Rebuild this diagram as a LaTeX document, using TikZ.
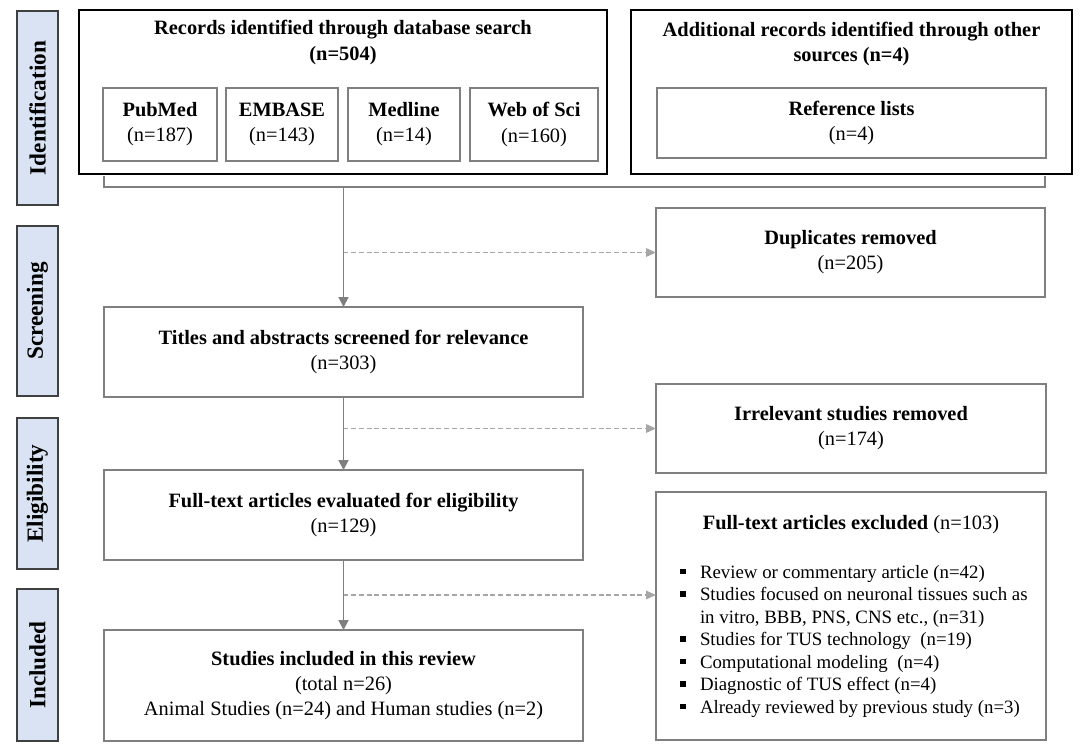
\documentclass[tikz,border=0pt]{standalone}
\usepackage{fontspec}
\setmainfont{Liberation Serif}
\usetikzlibrary{arrows.meta}
\definecolor{phasefill}{RGB}{218,227,243}
\definecolor{linegray}{RGB}{127,127,127}
\definecolor{dashgray}{RGB}{166,166,166}

\begin{document}
\begin{tikzpicture}[x=0.025cm,y=-0.025cm,
  sz/.style 2 args={minimum width=#1*0.025cm,minimum height=#2*0.025cm},
  box/.style={draw=linegray,line width=1.4pt,inner sep=0pt,outer sep=0pt,align=center,font=\fontsize{14.5}{17.8}\selectfont},
  srcbox/.style={box,draw=black,line width=1.1pt},
  dbbox/.style={box,line width=1.9pt},
  phase/.style={draw=black!75,fill=phasefill,line width=1pt,inner sep=0pt,rotate=90,font=\bfseries\fontsize{16.5}{18}\selectfont},
  txt/.style={align=center,inner sep=0pt,font=\fontsize{14.5}{17.8}\selectfont},
  arr/.style={draw=linegray,line width=1.4pt,-{Triangle[length=7pt,width=7pt]}},
  dasharr/.style={draw=dashgray,line width=1.2pt,dash pattern=on 3.5pt off 2pt,-{Triangle[length=7pt,width=6pt]}}
]
\useasboundingbox (0,0) rectangle (1084,750);

% phases
\node[phase,sz={194}{41}] (ident) at (37.5,108) {Identification};
\node[phase,sz={170}{41}] (screen) at (37.5,311) {Screening};
\node[phase,sz={151}{41}] (elig) at (37.5,493.5) {Eligibility};
\node[phase,sz={152}{41}] (incl) at (37.5,665) {Included};

% identification
\node[srcbox,sz={528}{164}] (dbsearch) at (343,92) {};
\node[txt] (dbtitle) at (343,42.5) {\textbf{Records identified through database search}\\\textbf{(n=504)}};
\node[dbbox,sz={114}{73}] (pubmed) at (160,124.5) {\textbf{PubMed}\\(n=187)};
\node[dbbox,sz={112}{73}] (embase) at (282,124.5) {\textbf{EMBASE}\\(n=143)};
\node[dbbox,sz={112}{73}] (medline) at (404,124.5) {\textbf{Medline}\\(n=14)};
\node[dbbox,sz={128}{73}] (wos) at (534,124.5) {\textbf{Web of Sci}\\(n=160)};

\node[srcbox,sz={441}{164}] (other) at (851.5,92) {};
\node[txt] (othertitle) at (851.5,44) {\textbf{Additional records identified through other}\\\textbf{sources (n=4)}};
\node[dbbox,sz={389}{70}] (reflist) at (851.5,123) {\textbf{Reference lists}\\(n=4)};

\coordinate (brkL) at (104,176);
\coordinate (brkR) at (1045,176);
\coordinate (brk) at (343.5,187);
\draw[linegray,line width=1.2pt] (brkL) |- (brk) -| (brkR);

% flow
\node[box,sz={479}{90}] (titles) at (343.5,352) {\textbf{Titles and abstracts screened for relevance}\\(n=303)};
\node[box,sz={479}{90}] (fulltext) at (343.5,515) {\textbf{Full-text articles evaluated for eligibility}\\(n=129)};
\node[box,sz={479}{111}] (included) at (343.5,685.5) {\textbf{Studies included in this review}\\(total n=26)\\Animal Studies (n=24) and Human studies (n=2)};

\node[box,sz={389}{89}] (dup) at (850.5,252.5) {\textbf{Duplicates removed}\\(n=205)};
\node[box,sz={390}{89}] (irrel) at (851,428.5) {\textbf{Irrelevant studies removed}\\(n=174)};
\node[box,sz={390}{248}] (excl) at (851,616) {};
\node[txt] (excltitle) at (851,525) {\textbf{Full-text articles excluded} (n=103)};
\node[inner sep=0pt,anchor=base west,font=\fontsize{13.4}{16}\selectfont] (excllist) at (680,578) {%
  \begin{tabular}[t]{@{}l@{\hspace{10pt}}l@{}}
  \rule[0.2em]{0.3em}{0.3em} & Review or commentary article (n=42)\\
  \rule[0.2em]{0.3em}{0.3em} & Studies focused on neuronal tissues such as\\
   & in vitro, BBB, PNS, CNS etc., (n=31)\\
  \rule[0.2em]{0.3em}{0.3em} & Studies for TUS technology~ (n=19)\\
  \rule[0.2em]{0.3em}{0.3em} & Computational modeling~ (n=4)\\
  \rule[0.2em]{0.3em}{0.3em} & Diagnostic of TUS effect (n=4)\\
  \rule[0.2em]{0.3em}{0.3em} & Already reviewed by previous study (n=3)
  \end{tabular}};
\coordinate (exin) at (656,595);

\draw[arr] (brk) -- (titles.north);
\draw[dasharr] (titles.north |- dup.west) -- (dup.west);
\draw[arr] (titles) -- (fulltext);
\draw[dasharr] (titles.south |- irrel.west) -- (irrel.west);
\draw[arr] (fulltext) -- (included);
\draw[dasharr] (fulltext.south |- exin) -- (exin);
\end{tikzpicture}
\end{document}
